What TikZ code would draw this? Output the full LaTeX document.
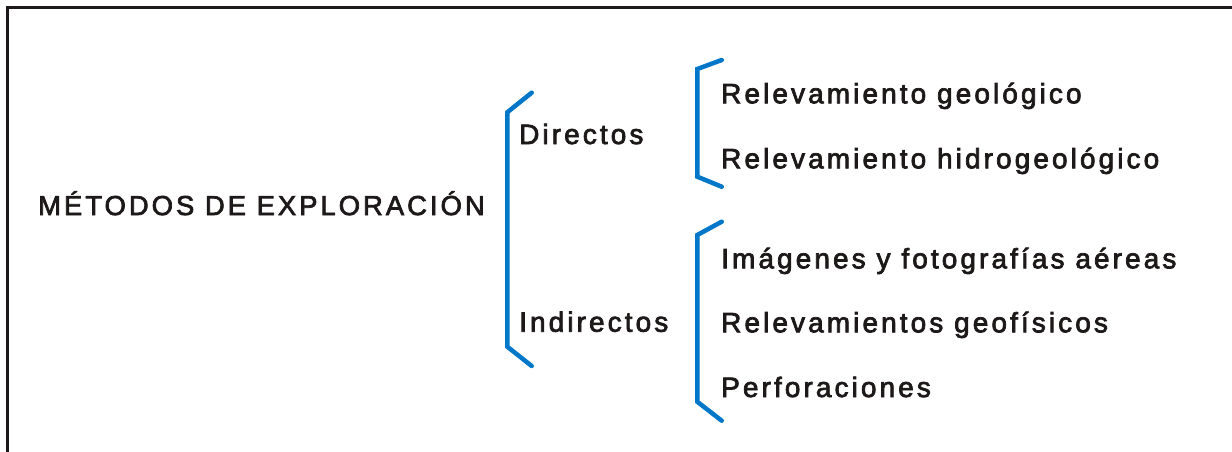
\documentclass[tikz,border=0pt]{standalone}
\usepackage{fontspec}
\usepackage{tikz}
\newfontfamily\diagfont[LetterSpace=11,FakeBold=2.6]{Liberation Sans}
\definecolor{braceBlue}{RGB}{0,119,200}
\definecolor{inkBlack}{RGB}{30,25,25}

\begin{document}
\begin{tikzpicture}[x=1pt, y=-1pt,
    label text/.style = {anchor=base west, inner sep=0pt, text=inkBlack,
        font=\diagfont\fontsize{28}{32}\selectfont},
    brace line/.style = {draw=braceBlue, line width=4.5pt, line cap=round, line join=miter},
    frame line/.style = {draw=inkBlack, line width=3pt}]
        \useasboundingbox (0,0) rectangle (1232,452);
        % frame
        \draw[frame line] (7.5,452) -- (7.5,7.5) -- (1232,7.5);

        % root
        \node[label text, font=\diagfont\fontsize{27.4}{32}\selectfont] (metodos) at (38, 215) {MÉTODOS DE EXPLORACIÓN};

        % first level
        \draw[brace line] (531.7,92.7) -- (507.3,112.3) -- (507.3,346.7) -- (531.7,366);
        \node[label text] (directos) at (519, 144) {Directos};
        \node[label text] (indirectos) at (519, 331.7) {Indirectos};

        % Directos
        \draw[brace line] (721.7,60) -- (697.3,69) -- (697.3,176.7) -- (721.7,186.7);
        \node[label text] (relGeo) at (721, 103.3) {Relevamiento geológico};
        \node[label text] (relHidro) at (721, 168.3) {Relevamiento hidrogeológico};

        % Indirectos
        \draw[brace line] (721.7,221.7) -- (697.3,235) -- (697.3,401.7) -- (721.7,420.7);
        \node[label text] (imagenes) at (721, 268.3) {Imágenes y fotografías aéreas};
        \node[label text] (relGeof) at (721, 332.3) {Relevamientos geofísicos};
        \node[label text] (perf) at (721, 397) {Perforaciones};

    \end{tikzpicture}
\end{document}
